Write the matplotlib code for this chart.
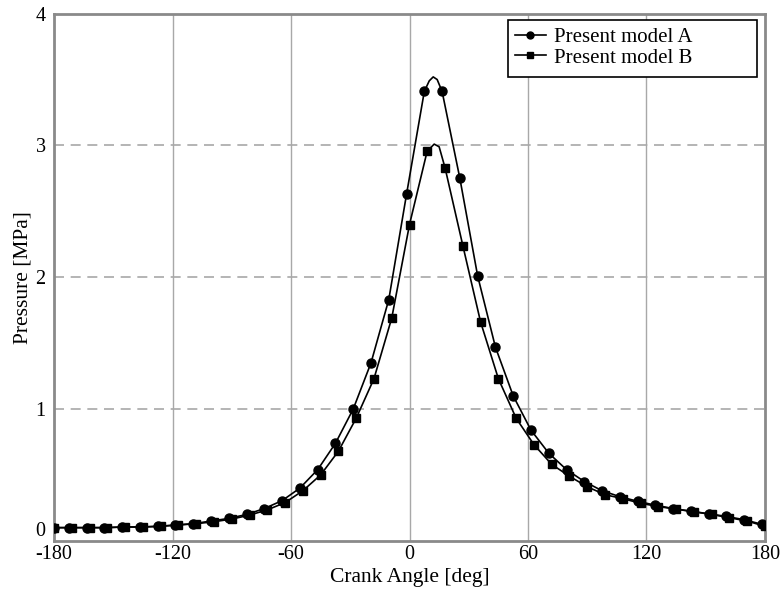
import matplotlib
matplotlib.use("Agg")
import matplotlib.pyplot as plt
from matplotlib.patches import Rectangle

# Marker points (crank angle in deg, pressure in MPa)
angle_a = [-180, -172.5, -163.5, -154.5, -145.5, -136.5, -127.5, -118.5, -109.5,
           -100.5, -91.5, -82.5, -73.5, -64.5, -55.5, -46.5, -37.5, -28.5, -19.5,
           -10.5, -1.5, 7.5, 16.5, 25.5, 34.5, 43.5, 52.5, 61.5, 70.5, 79.5, 88.5,
           97.5, 106.5, 115.5, 124.5, 133.5, 142.5, 151.5, 160.5, 169.5, 178.5]
pressure_a = [0.10, 0.10, 0.10, 0.10, 0.105, 0.105, 0.11, 0.12, 0.13,
              0.15, 0.17, 0.20, 0.245, 0.305, 0.40, 0.54, 0.74, 1.00, 1.35,
              1.83, 2.63, 3.41, 3.41, 2.75, 2.01, 1.47, 1.10, 0.84, 0.665, 0.54, 0.45,
              0.38, 0.335, 0.30, 0.27, 0.245, 0.225, 0.205, 0.185, 0.16, 0.125]

angle_b = [-180, -171, -162, -153, -144, -135, -126, -117, -108, -99, -90, -81,
           -72, -63, -54, -45, -36, -27, -18, -9, 0, 9, 18, 27, 36, 45, 54, 63,
           72, 81, 90, 99, 108, 117, 126, 135, 144, 153, 162, 171, 180]
pressure_b = [0.10, 0.10, 0.10, 0.10, 0.105, 0.105, 0.11, 0.12, 0.13, 0.145,
              0.165, 0.195, 0.235, 0.29, 0.38, 0.50, 0.68, 0.93, 1.23, 1.69,
              2.40, 2.96, 2.83, 2.24, 1.66, 1.23, 0.93, 0.73, 0.58, 0.49, 0.41,
              0.35, 0.32, 0.285, 0.26, 0.24, 0.22, 0.20, 0.175, 0.15, 0.11]

# Extra points on the curves around the peaks (no markers there)
peak_angle_a = [10, 12, 14]
peak_pressure_a = [3.49, 3.52, 3.50]
peak_angle_b = [10.5, 12.5, 15]
peak_pressure_b = [2.98, 3.01, 2.99]

x_ticks = [-180, -120, -60, 0, 60, 120, 180]
x_tick_labels = ["-180", "-120", "-60", "0", "60", "120", "180"]
y_ticks = [0, 1, 2, 3, 4]


def merge(xs, ys, xp, yp):
    pts = sorted(zip(list(xs) + list(xp), list(ys) + list(yp)))
    return [p[0] for p in pts], [p[1] for p in pts]


plt.rcParams["font.family"] = ["Liberation Serif", "DejaVu Serif"]

fig = plt.figure(figsize=(7.83, 5.93), dpi=100)
ax = fig.add_axes([0.069, 0.088, 0.908, 0.889])

line_xa, line_ya = merge(angle_a, pressure_a, peak_angle_a, peak_pressure_a)
line_xb, line_yb = merge(angle_b, pressure_b, peak_angle_b, peak_pressure_b)

ax.plot(line_xa, line_ya, color="black", lw=1.2, zorder=3)
ax.plot(line_xb, line_yb, color="black", lw=1.2, zorder=3)
ax.plot(angle_a, pressure_a, ls="none", marker="o", ms=6.5, color="black", zorder=4)
ax.plot(angle_b, pressure_b, ls="none", marker="s", ms=6, color="black", zorder=4)

# legend proxies
ax.plot([], [], color="black", lw=1.2, marker="o", ms=5, label="Present model A")
ax.plot([], [], color="black", lw=1.2, marker="s", ms=4.5, label="Present model B")

ax.set_xlim(-180, 180)
ax.set_ylim(0, 4)
ax.set_xticks(x_ticks)
ax.set_xticklabels(x_tick_labels)
ax.set_yticks(y_ticks)
ax.tick_params(length=0, labelsize=14.5)
ax.tick_params(axis="x", pad=3)
ax.tick_params(axis="y", pad=6)
# the y "0" sits a little above the x "-180"
ax.get_yticklabels()[0].set_verticalalignment("bottom")

for x in x_ticks[1:-1]:
    ax.axvline(x, color="#a8a8a8", lw=1.0, zorder=1)
for y in y_ticks[1:-1]:
    ax.axhline(y, color="#a8a8a8", lw=1.2, ls=(0, (6, 4)), zorder=1)

for sp in ax.spines.values():
    sp.set_color("#8a8a8a")
    sp.set_linewidth(2)

ax.set_xlabel("Crank Angle [deg]", fontsize=15.5, labelpad=3)
ax.set_ylabel("Pressure [MPa]", fontsize=15.5, labelpad=2)

leg = ax.legend(loc="upper left", fontsize=15, frameon=False,
                handlelength=1.5, handletextpad=0.4, labelspacing=0.05,
                borderpad=0, borderaxespad=0, bbox_to_anchor=(0.648, 0.974))

# legend box with extra blank space below the entries
ax.add_patch(Rectangle((0.6385, 0.879), 0.3505, 0.108, transform=ax.transAxes,
                       facecolor="white", edgecolor="black", lw=1.2, zorder=5))
leg.set_zorder(6)

fig.savefig("out.png", dpi=100)
